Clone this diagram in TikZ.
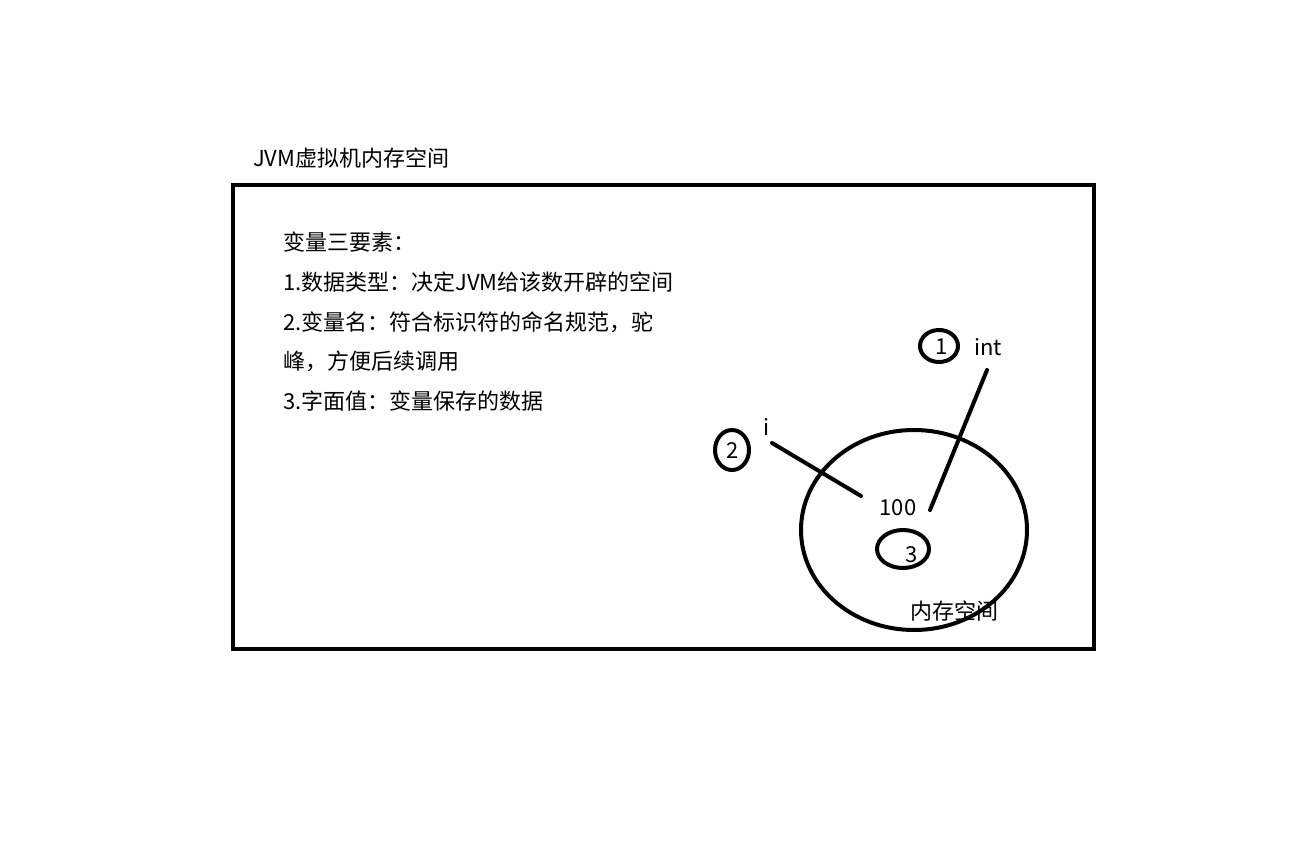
\documentclass[tikz,border=0pt]{standalone}
\usepackage{fontspec}
\setmainfont{Noto Sans CJK SC}
\begin{document}
\begin{tikzpicture}[x=1pt,y=-1pt,
  txt/.style={font=\fontsize{22}{26}\selectfont, inner sep=0pt},
  heavy/.style={line width=4pt},
  mark line/.style={line width=4pt, line cap=round}]
\useasboundingbox (0,0) rectangle (1296,864);
% title
\node[txt, anchor=west] (title) at (253,158) {JVM虚拟机内存空间};
% outer box
\node[draw, heavy, minimum width=861pt, minimum height=464pt, inner sep=0pt, outer sep=0pt, anchor=north west] (box) at (233,185) {};
% text lines
\node[txt, anchor=west] (l0) at (283,242) {变量三要素：};
\node[txt, anchor=west] (l1) at (283,282) {1.数据类型：决定JVM给该数开辟的空间};
\node[txt, anchor=west] (l2) at (283,322) {2.变量名：符合标识符的命名规范，驼};
\node[txt, anchor=west] (l3) at (283,361) {峰，方便后续调用};
\node[txt, anchor=west] (l4) at (283,401) {3.字面值：变量保存的数据};
% memory ellipse
\draw[heavy] (914,530) ellipse [x radius=113, y radius=100];
\node[txt] (mem) at (954,611) {内存空间};
\node[txt] (v100) at (898,508) {100};
\draw[heavy] (903,549) ellipse [x radius=26, y radius=19];
\node[txt] (v3) at (912,555) {3};
% markers 1 and 2
\node[txt] (n1) at (942,347) {1};
\draw[heavy] (939,346) ellipse [x radius=19, y radius=16];
\node[txt] (int) at (988,347) {int};
\node[txt] (n2) at (733,451) {2};
\draw[heavy] (732,450) ellipse [x radius=17, y radius=20];
\node[txt] (vi) at (767,427) {i};
% connectors
\coordinate (intend) at (987,370);
\coordinate (valA) at (930,510);
\coordinate (iend) at (772,443);
\coordinate (valB) at (861,496);
\draw[mark line] (intend) -- (valA);
\draw[mark line] (iend) -- (valB);
\end{tikzpicture}
\end{document}
